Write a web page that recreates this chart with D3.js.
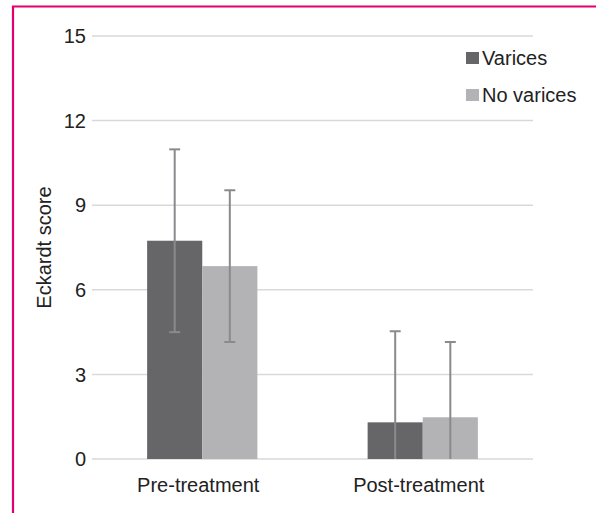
<!DOCTYPE html>
<html>
<head>
<meta charset="utf-8">
<script src="https://cdn.jsdelivr.net/npm/d3@7"></script>
<style>
  body { margin: 0; background: #fff; }
  text { font-family: "Liberation Sans", Arial, sans-serif; fill: #222; }
</style>
</head>
<body>
<div id="chart"></div>
<script>
const groups = ["Pre-treatment", "Post-treatment"];
const series = ["Varices", "No varices"];
const means = [[7.74, 6.84], [1.30, 1.48]];
const sds = [[3.24, 2.69], [3.23, 2.67]];
const yTicks = [0, 3, 6, 9, 12, 15];

const width = 596, height = 513;
const colors = d3.scaleOrdinal().domain(series).range(["#666668", "#b3b3b6"]);

let svg = d3.select("#chart")
    .append("svg")
    .attr("width", width)
    .attr("height", height);

// frame (top and left edges)
svg.append("path")
    .attr("d", "M13,513 L13,6.5 L596,6.5")
    .attr("fill", "none")
    .attr("stroke", "#e2006f")
    .attr("stroke-width", 2.2);

const plot = { left: 92, right: 533, top: 36, bottom: 459 };

let y = d3.scaleLinear().domain([0, 15]).range([plot.bottom, plot.top]);
let x0 = d3.scaleBand().domain(groups).range([plot.left, plot.right])
    .paddingInner(0.5).paddingOuter(0.25);
let x1 = d3.scaleBand().domain(series).range([0, x0.bandwidth()]);

// gridlines
svg.selectAll(".grid")
    .data(yTicks)
    .join("line")
    .attr("class", "grid")
    .attr("x1", plot.left)
    .attr("x2", plot.right)
    .attr("y1", d => y(d))
    .attr("y2", d => y(d))
    .attr("stroke", "#d9d9d9")
    .attr("stroke-width", 1.5);

// y tick labels
svg.selectAll(".ytick")
    .data(yTicks)
    .join("text")
    .attr("class", "ytick")
    .attr("x", 86)
    .attr("y", d => y(d))
    .attr("dy", "0.36em")
    .attr("text-anchor", "end")
    .style("font-size", "20px")
    .text(d => d);

// y axis title
svg.append("text")
    .attr("transform", `translate(51,${(plot.top + plot.bottom) / 2}) rotate(-90)`)
    .attr("text-anchor", "middle")
    .style("font-size", "20px")
    .text("Eckardt score");

// bars
let rows = [];
groups.forEach((g, i) => series.forEach((s, j) => {
    rows.push({ group: g, series: s, mean: means[i][j], sd: sds[i][j] });
}));

svg.selectAll(".bar")
    .data(rows)
    .join("rect")
    .attr("class", "bar")
    .attr("x", d => x0(d.group) + x1(d.series))
    .attr("width", x1.bandwidth())
    .attr("y", d => y(d.mean))
    .attr("height", d => y(0) - y(d.mean))
    .attr("fill", d => colors(d.series));

// error bars
let cx = d => x0(d.group) + x1(d.series) + x1.bandwidth() / 2;
let err = svg.selectAll(".err")
    .data(rows)
    .join("g")
    .attr("class", "err")
    .attr("stroke", "#8a8a8e")
    .attr("stroke-width", 2);

err.append("line")
    .attr("x1", cx).attr("x2", cx)
    .attr("y1", d => y(d.mean + d.sd))
    .attr("y2", d => y(Math.max(0, d.mean - d.sd)));

err.append("line")
    .attr("x1", d => cx(d) - 5.5).attr("x2", d => cx(d) + 5.5)
    .attr("y1", d => y(d.mean + d.sd))
    .attr("y2", d => y(d.mean + d.sd));

err.filter(d => d.mean - d.sd > 0)
    .append("line")
    .attr("x1", d => cx(d) - 5.5).attr("x2", d => cx(d) + 5.5)
    .attr("y1", d => y(d.mean - d.sd))
    .attr("y2", d => y(d.mean - d.sd));

// x labels (sit a little left of the group centre, as in the original)
svg.selectAll(".xlabel")
    .data(groups)
    .join("text")
    .attr("class", "xlabel")
    .attr("x", d => x0(d) + x0.bandwidth() / 2 - 4)
    .attr("y", 492)
    .attr("text-anchor", "middle")
    .style("font-size", "20px")
    .text(d => d);

// legend
let legend = svg.selectAll(".legend")
    .data(series)
    .join("g")
    .attr("class", "legend")
    .attr("transform", (d, i) => `translate(466,${52 + i * 37})`);

legend.append("rect")
    .attr("width", 13)
    .attr("height", 12)
    .attr("fill", d => colors(d));

legend.append("text")
    .attr("x", 16)
    .attr("y", 12.5)
    .style("font-size", "20px")
    .text(d => d);
</script>
</body>
</html>
